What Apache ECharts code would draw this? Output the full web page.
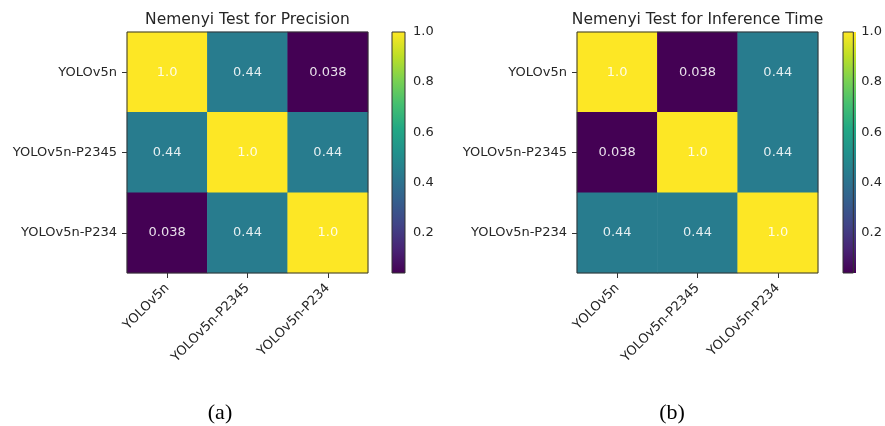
<!DOCTYPE html>
<html>
<head>
<meta charset="utf-8">
<script src="https://cdn.jsdelivr.net/npm/echarts@6/dist/echarts.min.js"></script>
<style>
html,body{margin:0;padding:0;background:#fff;}
#chart{width:885px;height:426px;}
</style>
</head>
<body>
<div id="chart"></div>
<script>
// ---- data ----
const models = ['YOLOv5n', 'YOLOv5n-P2345', 'YOLOv5n-P234'];
const precisionP = [
  [1.0, 0.44, 0.038],
  [0.44, 1.0, 0.44],
  [0.038, 0.44, 1.0]
];
const inferenceP = [
  [1.0, 0.038, 0.44],
  [0.038, 1.0, 0.44],
  [0.44, 0.44, 1.0]
];
const colorbarTicks = [0.2, 0.4, 0.6, 0.8, 1.0];
const titles = ['Nemenyi Test for Precision', 'Nemenyi Test for Inference Time'];
const captions = ['(a)', '(b)'];
const vMin = 0.038, vMax = 1.0;

const viridis = ['#440154', '#482475', '#414487', '#355f8d', '#2a788e', '#21918c',
  '#22a884', '#44bf70', '#7ad151', '#bddf26', '#fde725'];

function toCells(mat) {
  const out = [];
  for (let r = 0; r < mat.length; r++)
    for (let c = 0; c < mat[r].length; c++) out.push([c, r, mat[r][c]]);
  return out;
}
function fmt(v) { return v === 1 ? '1.0' : String(v); }

const FONT = 'DejaVu Sans';
const TXT = '#262626';
const panels = [
  { left: 127, cbLeft: 392, mat: precisionP },
  { left: 577, cbLeft: 843, mat: inferenceP }
];
const TOP = 32, SIZE = 241, CBW = 13;

const grid = [], xAxis = [], yAxis = [], series = [], visualMap = [], title = [], graphic = [];
panels.forEach((p, i) => {
  grid.push({ left: p.left, top: TOP, width: SIZE, height: SIZE, show: true,
    borderColor: '#333', borderWidth: 1, backgroundColor: 'transparent', z: 10 });
  grid.push({ left: p.cbLeft, top: TOP, width: CBW, height: SIZE, show: true,
    borderColor: '#333', borderWidth: 1, backgroundColor: 'transparent', z: 10 });
  const gH = i * 2, gC = i * 2 + 1;
  xAxis.push({ type: 'category', gridIndex: gH, data: models, position: 'bottom',
    axisLine: { show: false }, splitLine: { show: false },
    axisTick: { show: true, alignWithLabel: true, length: 5, lineStyle: { color: '#333' } },
    axisLabel: { rotate: 45, margin: 13, color: TXT, fontFamily: FONT, fontSize: 13, interval: 0 } });
  yAxis.push({ type: 'category', gridIndex: gH, data: models, inverse: true,
    axisLine: { show: false }, splitLine: { show: false },
    axisTick: { show: true, alignWithLabel: true, length: 5, lineStyle: { color: '#333' } },
    axisLabel: { margin: 10, color: TXT, fontFamily: FONT, fontSize: 13, interval: 0 } });
  xAxis.push({ type: 'value', gridIndex: gC, show: false, min: 0, max: 1 });
  yAxis.push({ type: 'value', gridIndex: gC, position: 'right', min: vMin, max: vMax,
    axisLine: { show: false }, splitLine: { show: false },
    axisTick: { show: true, length: 5, customValues: colorbarTicks, lineStyle: { color: '#333' } },
    axisLabel: { show: true, margin: 8, customValues: colorbarTicks, color: TXT, fontFamily: FONT,
      fontSize: 13, formatter: v => v.toFixed(1) } });
  series.push({ type: 'heatmap', xAxisIndex: gH, yAxisIndex: gH,
    data: toCells(p.mat),
    label: { show: true, color: 'rgba(255,255,255,0.88)', fontFamily: FONT, fontSize: 13,
      formatter: d => fmt(d.value[2]) },
    emphasis: { disabled: true } });
  visualMap.push({ type: 'continuous', show: false, seriesIndex: i, min: vMin, max: vMax,
    inRange: { color: viridis } });
  title.push({ text: titles[i], left: p.left + SIZE / 2, top: 12, textAlign: 'center', padding: 0,
    textStyle: { fontFamily: FONT, fontSize: 15.5, fontWeight: 'normal', color: TXT } });
  // colorbar gradient strip
  graphic.push({ type: 'rect', left: p.cbLeft, top: TOP, z: 1,
    shape: { x: 0, y: 0, width: CBW, height: SIZE },
    style: { fill: { type: 'linear', x: 0, y: 1, x2: 0, y2: 0,
      colorStops: viridis.map((c, k) => ({ offset: k / (viridis.length - 1), color: c })) } } });
  graphic.push({ type: 'text', x: i === 0 ? 220 : 672, y: 413,
    style: { text: captions[i], align: 'center', verticalAlign: 'middle',
      font: '22px "Liberation Serif"', fill: '#000' } });
});

const chart = echarts.init(document.getElementById('chart'), null, { renderer: 'canvas' });
chart.setOption({
  backgroundColor: '#fff',
  animation: false,
  title, grid, xAxis, yAxis, series, visualMap, graphic,
  tooltip: { show: false }
});
</script>
</body>
</html>
